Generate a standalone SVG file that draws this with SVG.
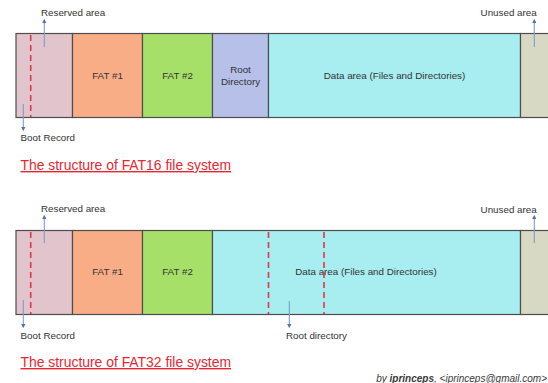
<svg xmlns="http://www.w3.org/2000/svg" width="548" height="383" viewBox="0 0 548 383">
<defs>
<style>
.seg{stroke:#4d4d4d;stroke-width:1.2}
.res{fill:#e2c4cd}.f1{fill:#f8ad87}.f2{fill:#a7e069}.rd{fill:#b6c0e8}.da{fill:#a8eef0}.un{fill:#d8d9c4}
.lbl{font-family:"Liberation Sans",Arial,sans-serif;font-size:9.8px;fill:#333333}
.ctr{text-anchor:middle}
.ttl{font-family:"Liberation Sans",Arial,sans-serif;font-size:13.9px;fill:#e82632;text-decoration:underline}
.dash{stroke:#e2344c;stroke-width:1.6;stroke-dasharray:6 4;fill:none}
.arr{stroke:#7f9cc6;stroke-width:1.1;fill:none;marker-end:url(#ah)}
</style>
<marker id="ah" viewBox="0 0 6 6" refX="3" refY="3" markerWidth="4" markerHeight="4" orient="auto">
<path d="M0,0 L6,3 L0,6 z" fill="#4f73aa"/>
</marker>
</defs>
<rect width="548" height="383" fill="#ffffff"/>

<g id="fat16">
<g id="fat16-reserved"><rect class="seg res" x="16" y="33.5" width="56.5" height="84"/></g>
<g id="fat16-fat1"><rect class="seg f1" x="72.5" y="33.5" width="70" height="84"/><text class="lbl ctr" x="107.5" y="78.5">FAT #1</text></g>
<g id="fat16-fat2"><rect class="seg f2" x="142.5" y="33.5" width="70" height="84"/><text class="lbl ctr" x="177.5" y="78.5">FAT #2</text></g>
<g id="fat16-root"><rect class="seg rd" x="212.5" y="33.5" width="56" height="84"/><text class="lbl ctr" x="240.5" y="72.8">Root</text><text class="lbl ctr" x="240.5" y="84.5">Directory</text></g>
<g id="fat16-data"><rect class="seg da" x="268.5" y="33.5" width="252" height="84"/><text class="lbl ctr" x="394.5" y="78.5">Data area (Files and Directories)</text></g>
<g id="fat16-unused"><rect class="seg un" x="520.5" y="33.5" width="30" height="84"/></g>
<text class="lbl" x="41" y="16">Reserved area</text>
<text class="lbl" x="536.7" y="16" text-anchor="end">Unused area</text>
<text class="lbl" x="20.5" y="141.3">Boot Record</text>
<text class="ttl" x="20.5" y="170">The structure of FAT16 file system</text>
</g>

<g id="fat32">
<g id="fat32-reserved"><rect class="seg res" x="16" y="230.5" width="56.5" height="84"/></g>
<g id="fat32-fat1"><rect class="seg f1" x="72.5" y="230.5" width="70" height="84"/><text class="lbl ctr" x="107.5" y="275.3">FAT #1</text></g>
<g id="fat32-fat2"><rect class="seg f2" x="142.5" y="230.5" width="70" height="84"/><text class="lbl ctr" x="177.5" y="275.3">FAT #2</text></g>
<g id="fat32-data"><rect class="seg da" x="212.5" y="230.5" width="308" height="84"/><text class="lbl ctr" x="366" y="275.3">Data area (Files and Directories)</text></g>
<g id="fat32-unused"><rect class="seg un" x="520.5" y="230.5" width="30" height="84"/></g>
<text class="lbl" x="41" y="211.8">Reserved area</text>
<text class="lbl" x="536.7" y="212.5" text-anchor="end">Unused area</text>
<text class="lbl" x="20.5" y="338.5">Boot Record</text>
<text class="lbl" x="286" y="339.3">Root directory</text>
<text class="ttl" x="20.5" y="367">The structure of FAT32 file system</text>
</g>

<g id="connectors">
<line class="dash" x1="30.7" y1="35" x2="30.7" y2="117"/>
<line class="dash" x1="30.7" y1="232" x2="30.7" y2="314"/>
<line class="dash" x1="268.5" y1="232" x2="268.5" y2="314"/>
<line class="dash" x1="324" y1="232" x2="324" y2="314"/>
<line class="arr" x1="44.3" y1="47" x2="44.3" y2="21"/>
<line class="arr" x1="534.3" y1="47" x2="534.3" y2="21"/>
<line class="arr" x1="23.3" y1="104" x2="23.3" y2="129"/>
<line class="arr" x1="44.3" y1="243" x2="44.3" y2="217"/>
<line class="arr" x1="534.3" y1="243" x2="534.3" y2="217"/>
<line class="arr" x1="23.3" y1="300" x2="23.3" y2="326"/>
<line class="arr" x1="289.3" y1="301" x2="289.3" y2="326"/>
</g>

<text x="547" y="381.5" text-anchor="end" font-family="'Liberation Sans',Arial,sans-serif" font-size="10" font-style="italic" fill="#3a3a3a">by <tspan font-weight="bold">iprinceps</tspan>, &lt;iprinceps@gmail.com&gt;</text>
</svg>
